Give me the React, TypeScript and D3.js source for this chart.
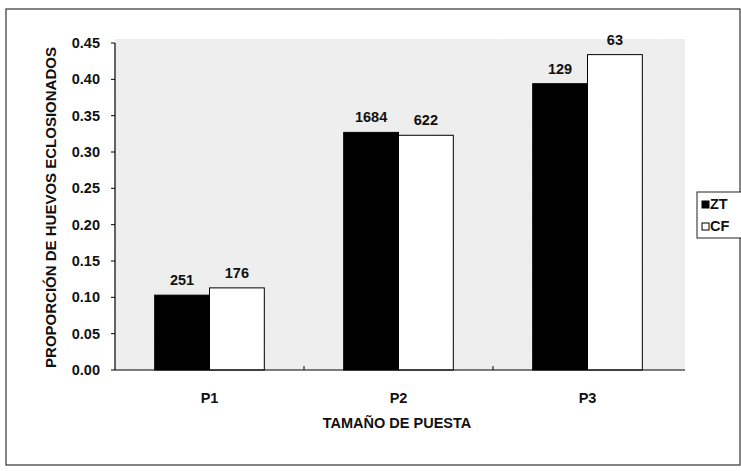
import React from "react";
import * as d3 from "d3";

const categories = ["P1", "P2", "P3"];
const seriesNames = ["ZT", "CF"];
const ztValues = [0.103, 0.327, 0.394];
const cfValues = [0.113, 0.323, 0.434];
const ztCounts = ["251", "1684", "129"];
const cfCounts = ["176", "622", "63"];
const yTicks = [0, 0.05, 0.1, 0.15, 0.2, 0.25, 0.3, 0.35, 0.4, 0.45];

function Chart() {
  const width = 741;
  const height = 471;
  const left = 115;
  const right = 682;
  const top = 43;
  const bottom = 370;
  const font = "'Liberation Sans', Arial, sans-serif";
  const fs = 14.5;

  const x = d3.scaleBand().domain(categories).range([left, right]).paddingInner(0.42).paddingOuter(0.21);
  const sub = d3.scaleBand().domain(seriesNames).range([0, x.bandwidth()]);
  const y = d3.scaleLinear().domain([0, 0.45]).range([bottom, top]);

  const series = [
    { name: "ZT", values: ztValues, counts: ztCounts, fill: "#000" },
    { name: "CF", values: cfValues, counts: cfCounts, fill: "#fff" },
  ];

  const step = x.step();

  return (
    <svg
      width={width}
      height={height}
      style={{ position: "absolute", left: 0, top: 0, background: "#fff" }}
      fontFamily={font}
    >
      <defs>
        <filter id="grain" x="0" y="0" width="100%" height="100%">
          <feTurbulence type="fractalNoise" baseFrequency="0.9" numOctaves="2" seed="3" />
          <feColorMatrix type="matrix" values="0 0 0 0 0.85  0 0 0 0 0.85  0 0 0 0 0.85  0 0 0 1.2 -0.4" />
        </filter>
      </defs>
      <rect x={6} y={9} width={734} height={456} fill="#fff" stroke="#333" strokeWidth={1.2} />
      <rect x={left} y={top - 4} width={right - left + 3} height={bottom - top + 4} fill="#eeeeee" />
      <rect x={left} y={top - 4} width={right - left + 3} height={bottom - top + 4} filter="url(#grain)" opacity={0.6} />

      {series.map((s) =>
        categories.map((c, i) => {
          const bx = (x(c) as number) + (sub(s.name) as number);
          const by = y(s.values[i]);
          return (
            <g key={s.name + c}>
              <rect
                x={bx}
                y={by}
                width={sub.bandwidth()}
                height={bottom - by}
                fill={s.fill}
                stroke="#000"
                strokeWidth={1}
              />
              <text
                x={bx + sub.bandwidth() / 2}
                y={by - 10}
                textAnchor="middle"
                fontSize={fs}
                fontWeight="bold"
                fill="#111"
              >
                {s.counts[i]}
              </text>
            </g>
          );
        })
      )}

      <line x1={left} y1={top} x2={left} y2={bottom} stroke="#000" strokeWidth={1.2} />
      <line x1={left} y1={bottom} x2={right + 3} y2={bottom} stroke="#000" strokeWidth={1.2} />
      {yTicks.map((t) => (
        <g key={t}>
          <line x1={left - 4} y1={y(t)} x2={left} y2={y(t)} stroke="#000" />
          <text x={left - 15} y={y(t) + 5} textAnchor="end" fontSize={fs} fontWeight="bold" fill="#111">
            {t.toFixed(2)}
          </text>
        </g>
      ))}
      {[1, 2].map((k) => (
        <line key={k} x1={left + k * step} y1={bottom} x2={left + k * step} y2={bottom - 4} stroke="#000" />
      ))}
      {categories.map((c) => (
        <text
          key={c}
          x={(x(c) as number) + x.bandwidth() / 2}
          y={bottom + 33}
          textAnchor="middle"
          fontSize={fs}
          fontWeight="bold"
          fill="#111"
        >
          {c}
        </text>
      ))}
      <text x={397} y={bottom + 58} textAnchor="middle" fontSize={fs} fontWeight="bold" fill="#111">
        TAMAÑO DE PUESTA
      </text>
      <text
        transform={`translate(56, ${(top + bottom) / 2 + 1}) rotate(-90)`}
        textAnchor="middle"
        fontSize={15}
        fontWeight="bold"
        fill="#111"
      >
        PROPORCIÓN DE HUEVOS ECLOSIONADOS
      </text>

      <g transform="translate(697, 192)">
        <rect width={45} height={46} fill="#fff" stroke="#222" strokeWidth={1} />
        {series.map((s, i) => (
          <g key={s.name} transform={`translate(5, ${12 + i * 22})`}>
            <rect x={0} y={-3} width={7} height={7} fill={s.fill} stroke="#000" />
            <text x={8} y={5} fontSize={fs} fontWeight="bold" fill="#111">
              {s.name}
            </text>
          </g>
        ))}
      </g>
    </svg>
  );
}

export default function App() {
  return <Chart />;
}
